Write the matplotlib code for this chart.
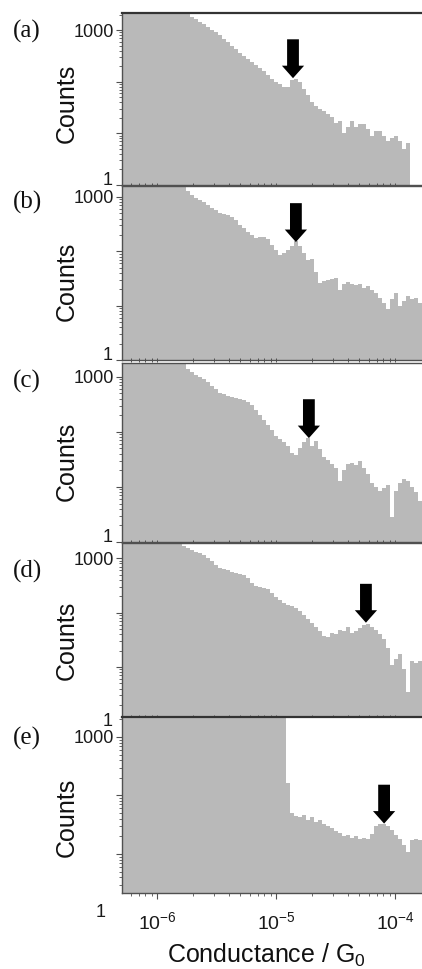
import matplotlib
matplotlib.use('Agg')
import matplotlib.pyplot as plt
import matplotlib.ticker as mticker
import matplotlib.transforms as mtrans
import numpy as np

###########################################################################
# data (counts per conductance bin)

# conductance bin edges (G/G0), 75 bins on a log axis
binEdges = np.logspace(-6.294, -3.773, 76)

countsA = [3000]*17 + [1820, 1620, 1450, 1320, 1150, 1020, 910, 795, 676, 575,
                       490, 427, 363, 316, 275, 240, 209, 186, 162, 135,
                       112, 100, 89, 79, 79, 110, 115, 100, 71, 55,
                       41, 34, 30, 27, 24, 21, 16, 17, 10, 13,
                       17, 13, 15, 15, 12, 9, 11, 11, 9, 7,
                       8, 9, 7, 5, 6.5] + [0, 0, 0]
countsB = [3000]*15 + [1500, 1260, 1100, 955, 890, 810, 710, 630, 575, 513,
                       479, 457, 427, 380, 309, 263, 229, 200, 178, 186,
                       186, 166, 132, 105, 87, 93, 107, 126, 155, 126,
                       95, 69, 72, 42, 26, 29, 30, 31, 32, 19,
                       25, 27, 25, 24, 25, 21, 23, 19, 17, 14,
                       11, 8.5, 13, 17, 10, 12, 15, 13, 14, 11]
countsC = [3000]*15 + [1700, 1410, 1230, 1100, 980, 930, 795, 676, 590, 500,
                       479, 447, 427, 417, 398, 380, 347, 302, 251, 200,
                       162, 135, 107, 85, 74, 66, 55, 41, 38, 52,
                       66, 78, 55, 68, 48, 35, 31, 26, 22, 13,
                       20, 26, 27, 25, 29, 22, 17, 12, 10, 8.3,
                       9.5, 11, 2.8, 8.3, 12, 14, 13, 10, 8, 5.6]
countsD = [3000]*14 + [1860, 1660, 1510, 1410, 1320, 1230, 1150, 1000, 870, 740,
                       660, 631, 603, 562, 537, 513, 490, 437, 355, 302,
                       295, 288, 269, 224, 190, 170, 151, 138, 132, 123,
                       107, 89, 76, 63, 54, 46, 37, 35, 42, 40,
                       48, 46, 55, 42, 46, 52, 59, 62, 54, 48,
                       40, 32, 22, 11, 14, 17, 9, 3.5, 13, 12,
                       13]
countsE = [3000]*41 + [160, 50, 44, 42, 46, 38, 42, 35, 38, 33,
                       30, 28, 25, 23, 20, 21, 19, 20, 18, 19,
                       18, 22, 30, 32, 33, 30, 26, 21, 18, 14,
                       11, 17, 18, 17]

allCounts = [countsA, countsB, countsC, countsD, countsE]
panelNames = ['(a)', '(b)', '(c)', '(d)', '(e)']

# peak marked by the arrow in each panel (conductance, counts)
peakG = [1.39e-5, 1.47e-5, 1.89e-5, 5.7e-5, 8.1e-5]
peakCounts = [117, 148, 77, 65, 33]

###########################################################################
# layout (pixels of the 422x969 figure)
W, H = 422., 969.
axTop = [13, 186, 363, 543, 717]
axBot = [185, 360, 542, 717, 893]
yLims = [(1, 2140), (1, 1590), (1, 1780), (1.2, 1900), (2.15, 2190)]
letterY = [31, 202, 381, 571, 738]
countsY = [103, 281, 461, 640, 817]
# where the "1" label sits (x in axes fraction, vertical alignment)
oneX = [-0.03, -0.03, -0.03, -0.03, -0.055]
oneVa = ['baseline', 'baseline', 'baseline', 'center', 'center']
gray = '#b9b9b9'
spineCol = '#505050'

plt.rcParams['font.family'] = ['Liberation Sans', 'DejaVu Sans']
fig = plt.figure(figsize=(W/100, H/100), dpi=100)

for k in range(5):
    ax = fig.add_axes([122/W, 1-axBot[k]/H, 300/W, (axBot[k]-axTop[k])/H])
    c = np.maximum(np.array(allCounts[k], dtype=float), 0.1)
    ax.stairs(c, binEdges, fill=True, baseline=0.1, color=gray, lw=0)
    ax.set_xscale('log')
    ax.set_yscale('log')
    ax.set_xlim(binEdges[0], binEdges[-1])
    ax.set_ylim(*yLims[k])

    # y ticks: only 1000 as tick label, "1" placed by hand
    ax.yaxis.set_major_locator(mticker.FixedLocator([1, 10, 100, 1000]))
    ax.yaxis.set_major_formatter(mticker.FixedFormatter(['', '', '', '1000']))
    ax.yaxis.set_minor_locator(mticker.LogLocator(base=10, subs=np.arange(2, 10)))
    ax.yaxis.set_minor_formatter(mticker.NullFormatter())
    ax.tick_params(axis='y', which='major', direction='out', length=4, width=0.8,
                   colors=spineCol, labelcolor='#1a1a1a', labelsize=13, pad=2)
    ax.tick_params(axis='y', which='minor', direction='out', length=2, width=0.6,
                   colors=spineCol)
    tr = mtrans.blended_transform_factory(ax.transAxes, ax.transData)
    ax.text(oneX[k], 1, '1', transform=tr, ha='right', va=oneVa[k],
            fontsize=13, color='#1a1a1a', clip_on=False)

    # x ticks
    ax.xaxis.set_major_locator(mticker.LogLocator(base=10))
    ax.xaxis.set_minor_locator(mticker.LogLocator(base=10, subs=np.arange(2, 10)))
    ax.xaxis.set_minor_formatter(mticker.NullFormatter())
    if k < 4:
        ax.tick_params(axis='x', which='both', direction='inout', length=3,
                       width=0.7, colors=spineCol, labelbottom=False)
    else:
        ax.tick_params(axis='x', which='major', direction='out', length=4,
                       width=0.8, colors=spineCol, labelcolor='#1a1a1a',
                       labelsize=14, pad=9)
        ax.tick_params(axis='x', which='minor', direction='out', length=2.5,
                       width=0.6, colors=spineCol)

    for s in ['left', 'bottom', 'top']:
        ax.spines[s].set_color(spineCol)
        ax.spines[s].set_linewidth(1.0)
    ax.spines['right'].set_visible(False)
    if k in (0, 4):
        ax.spines['top'].set_linewidth(1.6)
        ax.spines['top'].set_color('#333333')

    # arrow pointing at the peak
    ax.annotate('', xy=(peakG[k], peakCounts[k]), xytext=(0, 28),
                textcoords='offset points',
                arrowprops=dict(arrowstyle='simple,head_width=1.6,head_length=0.9,tail_width=0.85',
                                fc='black', ec='black', lw=0, mutation_scale=10,
                                shrinkA=0, shrinkB=0))

    fig.text(13/W, 1-letterY[k]/H, panelNames[k], family='Liberation Serif',
             fontsize=18, ha='left', va='center', color='#111111')
    fig.text(67/W, 1-countsY[k]/H, 'Counts', rotation=90, fontsize=18,
             ha='center', va='center', color='#111111')

fig.text(266/W, 1-955/H, r'Conductance / G$_{\mathdefault{0}}$', fontsize=18,
         ha='center', va='center', color='#111111')

plt.savefig('out.png', dpi=100)
